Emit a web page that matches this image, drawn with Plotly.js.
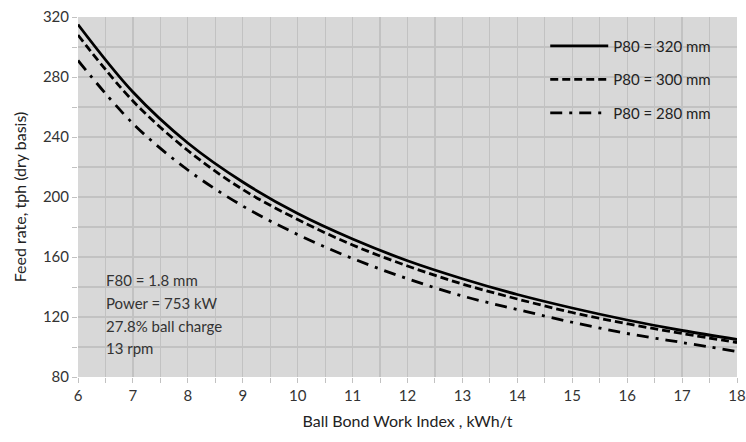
<!DOCTYPE html>
<html><head><meta charset="utf-8">
<script src="https://cdn.plot.ly/plotly-3.0.1.min.js"></script>
<style>body{margin:0;background:#fff}#c{width:746px;height:442px}</style>
</head><body><div id="c"></div>
<script>
const workIndex = [6, 7, 8, 9, 10, 11, 12, 13, 14, 15, 16, 17, 18];
const feed320 = [315, 270, 236, 210, 189, 172, 157.5, 145.5, 135, 126, 118, 111, 105];
const feed300 = [308, 264, 231, 205, 185, 168, 154, 142, 132, 123, 115.5, 109, 103];
const feed280 = [291, 249, 218, 194, 175, 159, 145.5, 134, 125, 116.5, 109, 103, 97];
const seriesNames = ["P80 = 320 mm", "P80 = 300 mm", "P80 = 280 mm"];
const noteLines = ["F80 = 1.8 mm", "Power = 753 kW", "27.8% ball charge", "13 rpm"];

const font = "Lato, 'Open Sans', sans-serif";
const mk = (y, name, dash, g) => ({
  x: workIndex, y: y, name: name, type: "scatter", mode: "lines", legendgroup: g,
  line: {color: "#000", width: 2.8, dash: dash, shape: "spline", smoothing: 1}
});
const data = [
  mk(feed320, seriesNames[0], "solid", "a"),
  mk(feed300, seriesNames[1], "8px,4px", "b"),
  mk(feed280, seriesNames[2], "12px,7px,3px,7px", "c")
];
const annotations = noteLines.map((t, i) => ({
  xref: "paper", yref: "paper", x: 0.04, y: 0.269 - i * 0.063, xanchor: "left", yanchor: "middle",
  align: "left", showarrow: false, text: t,
  font: {family: font, size: 15, color: "#333"}
}));
const layout = {
  width: 746, height: 442,
  margin: {l: 78, r: 9, t: 17, b: 65},
  paper_bgcolor: "#fff", plot_bgcolor: "#d8d8d8",
  font: {family: font, size: 15, color: "#333"},
  showlegend: true,
  legend: {x: 0.709, y: 0.965, xanchor: "left", yanchor: "top", bgcolor: "rgba(0,0,0,0)",
    font: {family: font, size: 15, color: "#222"}, itemwidth: 58, tracegroupgap: 11},
  xaxis: {range: [6, 18], dtick: 1, tick0: 6, showgrid: true, gridcolor: "#c2c2c2", gridwidth: 1.3,
    zeroline: false, ticks: "outside", ticklen: 5, tickcolor: "#c2c2c2",
    minor: {dtick: 0.5, showgrid: true, gridcolor: "#c2c2c2", gridwidth: 1.1, ticks: "outside", ticklen: 5, tickcolor: "#c2c2c2"},
    tickfont: {size: 15, color: "#333"},
    title: {text: "Ball Bond Work Index , kWh/t", font: {size: 16, color: "#222"}, standoff: 12}},
  yaxis: {range: [80, 320], dtick: 40, tick0: 80, showgrid: true, gridcolor: "#c2c2c2", gridwidth: 1.3,
    zeroline: false, ticks: "outside", ticklen: 5, tickcolor: "#c2c2c2",
    minor: {dtick: 20, showgrid: true, gridcolor: "#c2c2c2", gridwidth: 1.1, ticks: "outside", ticklen: 5, tickcolor: "#c2c2c2"},
    tickfont: {size: 15, color: "#333"},
    title: {text: "Feed rate, tph (dry basis)", font: {size: 16, color: "#222"}, standoff: 12}},
  annotations: annotations
};
Plotly.newPlot("c", data, layout, {displayModeBar: false, staticPlot: true});
</script></body></html>
